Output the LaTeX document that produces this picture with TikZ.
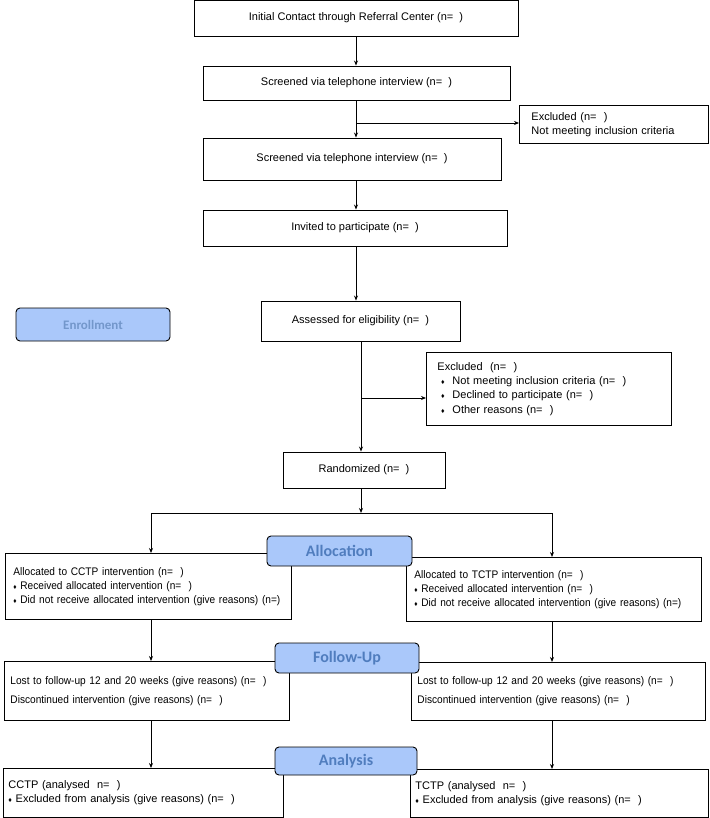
\documentclass[tikz,border=0pt]{standalone}
\usepackage{fontspec}
\setmainfont{Liberation Sans}
\newfontfamily\labelfont{Carlito}
\newfontfamily\narrowfont[FakeStretch=0.92]{Liberation Sans}
\usepackage{tikz}
\usetikzlibrary{arrows.meta,positioning}

\definecolor{stagefill}{RGB}{170,200,250}
\definecolor{stagetext}{RGB}{80,125,190}

\newcommand{\dia}{{\scriptsize ♦}\ }
\newcommand{\diaw}{\makebox[15pt][l]{\scriptsize\ ♦}}

\begin{document}
\begin{tikzpicture}[x=1pt,y=-1pt,
    box/.style={draw, line width=0.9pt, font=\fontsize{11}{14}\selectfont, inner sep=0pt},
    listbox/.style={box, anchor=north west, align=left, inner xsep=6pt},
    narrowbox/.style={listbox, font=\narrowfont\fontsize{11}{14}\selectfont},
    stage/.style={draw, line width=0.9pt, rounded corners=4pt, fill=stagefill,
        text=stagetext, inner sep=0pt, font=\labelfont\bfseries\fontsize{16}{18}\selectfont},
    arr/.style={-{Stealth[length=5pt,width=4pt]}, line width=0.9pt}]
   \useasboundingbox (0,0) rectangle (709,818);

   % main column
   \node[box, minimum width=324, minimum height=36] (init)   at (356,18)    {Initial Contact through Referral Center (n=\ \ )};
   \node[box, minimum width=307, minimum height=34] (scr1)   at (356.5,83)  {Screened via telephone interview (n=\ \ )};
   \node[listbox, inner xsep=12pt, text width=165, minimum height=38] (excl1) at (519,105)
        {Excluded (n=\ \ )\\Not meeting inclusion criteria};
   \node[box, minimum width=298, minimum height=42] (scr2)   at (352,159)   {Screened via telephone interview (n=\ \ )};
   \node[box, minimum width=304, minimum height=36] (invite) at (355,228)   {Invited to participate (n=\ \ )};
   \node[box, minimum width=199, minimum height=40] (assess) at (360.5,321) {Assessed for eligibility (n=\ \ )};
   \node[listbox, inner xsep=11pt, text width=223, minimum height=73, font=\fontsize{11}{14.3}\selectfont] (excl2) at (426,352)
        {Excluded\ \ (n=\ \ )\\\diaw Not meeting inclusion criteria (n=\ \ )\\\diaw Declined to participate (n=\ \ )\\\diaw Other reasons (n=\ \ )};
   \node[box, minimum width=162, minimum height=36] (rand)   at (364,470)   {Randomized (n=\ \ )};

   % arms
   \node[narrowbox, inner xsep=8pt, text width=270, minimum height=66] (allocL) at (5,553)
        {Allocated to CCTP intervention (n=\ \ )\\\dia Received allocated intervention (n=\ \ )\\\dia Did not receive allocated intervention (give reasons) (n=)};
   \node[narrowbox, inner xsep=8pt, text width=279, minimum height=64] (allocR) at (406,557)
        {Allocated to TCTP intervention (n=\ \ )\\\dia Received allocated intervention (n=\ \ )\\\dia Did not receive allocated intervention (give reasons) (n=)};
   \node[narrowbox, text width=273, minimum height=59] (followL) at (4,661)
        {Lost to follow-up 12 and 20 weeks (give reasons) (n=\ \ )\\[5pt]Discontinued intervention (give reasons) (n=\ \ )};
   \node[narrowbox, text width=282, minimum height=58] (followR) at (411,662)
        {Lost to follow-up 12 and 20 weeks (give reasons) (n=\ \ )\\[5pt]Discontinued intervention (give reasons) (n=\ \ )};
   \node[listbox, inner xsep=5pt, text width=270, minimum height=49] (anaL) at (3,768)
        {CCTP (analysed\ \ n=\ \ )\\\dia Excluded from analysis (give reasons) (n=\ \ )};
   \node[listbox, inner xsep=5pt, text width=288, minimum height=48] (anaR) at (410,769)
        {TCTP (analysed\ \ n=\ \ )\\\dia Excluded from analysis (give reasons) (n=\ \ )};

   % stage labels
   \node[stage, minimum width=154, minimum height=33, font=\labelfont\bfseries\fontsize{13}{15}\selectfont,
         text=stagetext!80] (enroll) at (93,324.5) {Enrollment};
   \node[stage, minimum width=145, minimum height=30] (allocate) at (339.5,551) {Allocation};
   \node[stage, minimum width=144, minimum height=30] (follow)   at (347,658)   {Follow-Up};
   \node[stage, minimum width=142, minimum height=28] (analyse)  at (346,761)   {Analysis};

   \coordinate (b1) at (356,123);
   \coordinate (b2) at (361,398);
   \coordinate (split) at (361,513);
   \coordinate (colL) at (151,0);
   \coordinate (colR) at (552,0);

   \draw[arr] (init.south -| b1) -- (scr1.north -| b1);
   \draw[arr] (scr1.south -| b1) -- (scr2.north -| b1);
   \draw[arr] (b1) -- (b1 -| excl1.west);
   \draw[arr] (scr2.south -| b1) -- (invite.north -| b1);
   \draw[arr] (invite.south -| b1) -- (assess.north -| b1);
   \draw[arr] (assess.south -| b2) -- (rand.north -| b2);
   \draw[arr] (b2) -- (b2 -| excl2.west);
   \draw[arr] (rand.south -| split) -- (split);
   \draw[arr] (split) -- (split -| colL) -- (allocL.north -| colL);
   \draw[arr] (split) -- (split -| colR) -- (allocR.north -| colR);
   \draw[arr] (allocL.south -| colL) -- (followL.north -| colL);
   \draw[arr] (allocR.south -| colR) -- (followR.north -| colR);
   \draw[arr] (followL.south -| colL) -- (anaL.north -| colL);
   \draw[arr] (followR.south -| colR) -- (anaR.north -| colR);
\end{tikzpicture}
\end{document}
